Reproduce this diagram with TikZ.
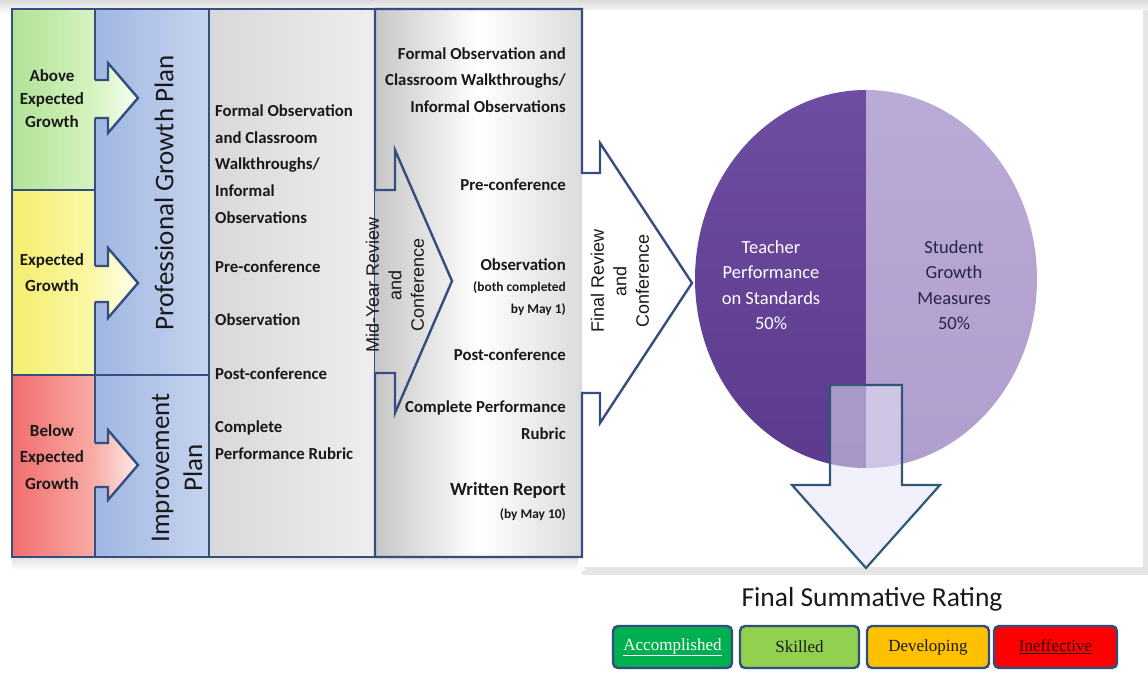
\documentclass[tikz,border=0pt]{standalone}
\usepackage{fontspec}
\setmainfont{Carlito}
\newfontfamily\arialf{Liberation Sans}
\newfontfamily\timesf{Liberation Serif}
\usetikzlibrary{calc}
\definecolor{edgec}{RGB}{52,78,128}
\definecolor{grnA}{RGB}{176,226,150}
\definecolor{grnB}{RGB}{214,243,192}
\definecolor{yelA}{RGB}{244,238,110}
\definecolor{yelB}{RGB}{250,248,170}
\definecolor{redA}{RGB}{242,110,110}
\definecolor{redB}{RGB}{248,172,165}
\definecolor{bluA}{RGB}{160,182,226}
\definecolor{bluB}{RGB}{198,212,238}
\definecolor{gryA}{RGB}{216,216,218}
\definecolor{gryB}{RGB}{238,238,238}
\definecolor{pieDa}{RGB}{110,78,162}
\definecolor{pieDb}{RGB}{92,58,142}
\definecolor{pieLa}{RGB}{186,170,214}
\definecolor{pieLb}{RGB}{176,158,206}
\definecolor{btnG}{RGB}{0,176,80}
\definecolor{btnL}{RGB}{146,208,80}
\definecolor{btnY}{RGB}{255,192,0}
\definecolor{btnR}{RGB}{255,0,0}
\definecolor{btnE}{RGB}{47,79,127}
\definecolor{txt}{RGB}{25,25,25}
\definecolor{downE}{RGB}{47,88,120}
\begin{document}
\begin{tikzpicture}[x=1pt,y=-1pt,
  edgeline/.style={draw=edgec, line width=2.4pt, line join=miter},
  lbl/.style={font=\bfseries\fontsize{16.8}{26.6}\selectfont, text=txt, inner sep=0pt},
  small/.style={font=\bfseries\fontsize{13.4}{15}\selectfont, text=txt, inner sep=0pt},
  side/.style={font=\bfseries\fontsize{17}{23}\selectfont, text=txt, inner sep=0pt, align=center},
  plan/.style={font=\fontsize{27}{33}\selectfont, text=txt, inner sep=0pt, align=center, rotate=90},
  review/.style={font=\arialf\fontsize{18}{22.5}\selectfont, text=txt, inner sep=0pt, align=center, rotate=90},
  pietext/.style={font=\fontsize{18.5}{25.3}\selectfont, inner sep=0pt, align=center},
  btn/.style={draw=btnE, line width=2.4pt, rounded corners=5pt, minimum width=119pt, minimum height=42pt, font=\timesf\fontsize{17}{20}\selectfont, inner sep=0pt}
]
\useasboundingbox (0,0) rectangle (1148,673);
\fill[white] (0,0) rectangle (1148,673);
% top grey band and shadows
\shade[top color=black!14, bottom color=white] (0,0) rectangle (1148,14);
\fill[black!10] (582,566) rectangle (1146,575);
\fill[black!10] (1143,10) rectangle (1148,575);
\shade[top color=black!12, bottom color=white] (12,557) rectangle (585,570);
% white panel
\fill[white] (578,10) rectangle (1143,567);

% left colored boxes
\shade[left color=grnA, right color=grnB] (12,9) rectangle (95,190);
\shade[left color=yelA, right color=yelB] (12,190) rectangle (95,375);
\shade[left color=redA, right color=redB] (12,375) rectangle (95,557);
% blue column
\shade[left color=bluA, right color=bluB] (95,9) rectangle (209,557);
% grey column
\shade[left color=gryA, right color=gryB] (209,9) rectangle (375,557);
\draw[edgeline] (12,9) rectangle (95,190);
\draw[edgeline] (12,190) rectangle (95,375);
\draw[edgeline] (12,375) rectangle (95,557);
\draw[edgeline] (95,9) rectangle (209,375);
\draw[edgeline] (95,375) rectangle (209,557);
\draw[edgeline] (209,9) rectangle (375,557);

% small block arrows
\shade[left color=grnB, right color=green!4] (93,80) -- (108,80) -- (108,63) -- (138,98) -- (108,133) -- (108,118) -- (93,118) -- cycle;
\draw[edgeline] (95,80) -- (108,80) -- (108,63) -- (138,98) -- (108,133) -- (108,118) -- (95,118);
\shade[left color=yelB, right color=yellow!6] (93,266) -- (108,266) -- (108,248) -- (138,283) -- (108,318) -- (108,302) -- (93,302) -- cycle;
\draw[edgeline] (95,266) -- (108,266) -- (108,248) -- (138,283) -- (108,318) -- (108,302) -- (95,302);
\shade[left color=redB, right color=red!8] (93,443) -- (108,443) -- (108,430) -- (138,465) -- (108,500) -- (108,487) -- (93,487) -- cycle;
\draw[edgeline] (95,443) -- (108,443) -- (108,430) -- (138,465) -- (108,500) -- (108,487) -- (95,487);

% column 4 body
\shade[left color=black!22, right color=black!14, middle color=white] (375,9) rectangle (582,557);
\fill[white] (584,173) -- (600,173) -- (600,143) -- (692,283) -- (600,423) -- (600,393) -- (584,393) -- cycle;
\draw[edgeline] (375,9) -- (582,9) -- (582,173) -- (600,173) -- (600,143) -- (692,283) -- (600,423) -- (600,393) -- (582,393) -- (582,557) -- (375,557) -- (375,373) -- (395,373) -- (395,413) -- (452,281) -- (395,150) -- (395,190) -- (375,190) -- cycle;

% left labels
\node[side] (above) at (52,99) {Above\\Expected\\Growth};
\node[side, font=\bfseries\fontsize{17}{26}\selectfont] (expected) at (52,273) {Expected\\Growth};
\node[side, font=\bfseries\fontsize{17}{26.5}\selectfont] (below) at (52,457) {Below\\Expected\\Growth};
\node[plan] (pgp) at (164,193) {Professional Growth Plan};
\node[plan] (ip) at (177,468) {Improvement\\Plan};

% grey column texts
\node[lbl, anchor=west, align=left] (c3a) at (215,164) {Formal Observation\\and Classroom\\Walkthroughs/\\Informal\\Observations};
\node[lbl, anchor=west] (c3b) at (215,267) {Pre-conference};
\node[lbl, anchor=west] (c3c) at (215,320) {Observation};
\node[lbl, anchor=west] (c3d) at (215,374) {Post-conference};
\node[lbl, anchor=west, align=left] (c3e) at (215,440) {Complete\\Performance Rubric};

% review labels
\node[review] (mid) at (395,285) {Mid-Year Review\\and\\Conference};
\node[review] (final) at (620,281) {Final Review\\and\\Conference};

% column 4 texts
\node[lbl, anchor=east, align=right] (c4a) at (566,80) {Formal Observation and\\Classroom Walkthroughs/\\Informal Observations};
\node[lbl, anchor=east] (c4b) at (566,185) {Pre-conference};
\node[lbl, anchor=east] (c4c) at (566,265) {Observation};
\node[small, anchor=east] (c4d) at (566,288) {(both completed};
\node[small, anchor=east] (c4e) at (566,310) {by May 1)};
\node[lbl, anchor=east] (c4f) at (566,355) {Post-conference};
\node[lbl, anchor=east, align=right] (c4g) at (566,420) {Complete Performance\\Rubric};
\node[lbl, anchor=east, font=\bfseries\fontsize{18.6}{20}\selectfont] (c4h) at (566,490) {Written Report};
\node[small, anchor=east] (c4i) at (566,515) {(by May 10)};

% pie
\begin{scope}
\clip (866,279) ellipse [x radius=171pt, y radius=189pt];
\shade[top color=pieDa, bottom color=pieDb] (690,85) rectangle (866,472);
\shade[top color=pieLa, bottom color=pieLb] (866,85) rectangle (1042,472);
\end{scope}
\node[pietext, text=white] (teacher) at (771,285) {Teacher\\Performance\\on Standards\\50\%};
\node[pietext, text={rgb,255:red,38;green,36;blue,70}] (student) at (954,285) {Student\\Growth\\Measures\\50\%};

% down arrow
\fill[fill={rgb,255:red,232;green,228;blue,246}, fill opacity=0.55] (830,385) -- (902,385) -- (902,485) -- (940,485) -- (866,568) -- (792,485) -- (830,485) -- cycle;
\draw[draw=downE, line width=2.2pt, line join=miter] (830,385) -- (902,385) -- (902,485) -- (940,485) -- (866,568) -- (792,485) -- (830,485) -- cycle;

% rating
\node[font=\fontsize{27.5}{30}\selectfont, text=txt, inner sep=0pt] (rating) at (872,599) {Final Summative Rating};
\node[btn, fill=btnG, text=white] (acc) at (672.5,647) {\underline{Accomplished}};
\node[btn, fill=btnL, text=txt] (ski) at (799.5,647) {Skilled};
\node[btn, fill=btnY, text=txt, minimum width=122pt] (dev) at (928,647) {Developing};
\node[btn, fill=btnR, text={rgb,255:red,50;green,0;blue,0}, minimum width=123pt] (ine) at (1055.5,647) {\underline{Ineffective}};
\end{tikzpicture}
\end{document}
